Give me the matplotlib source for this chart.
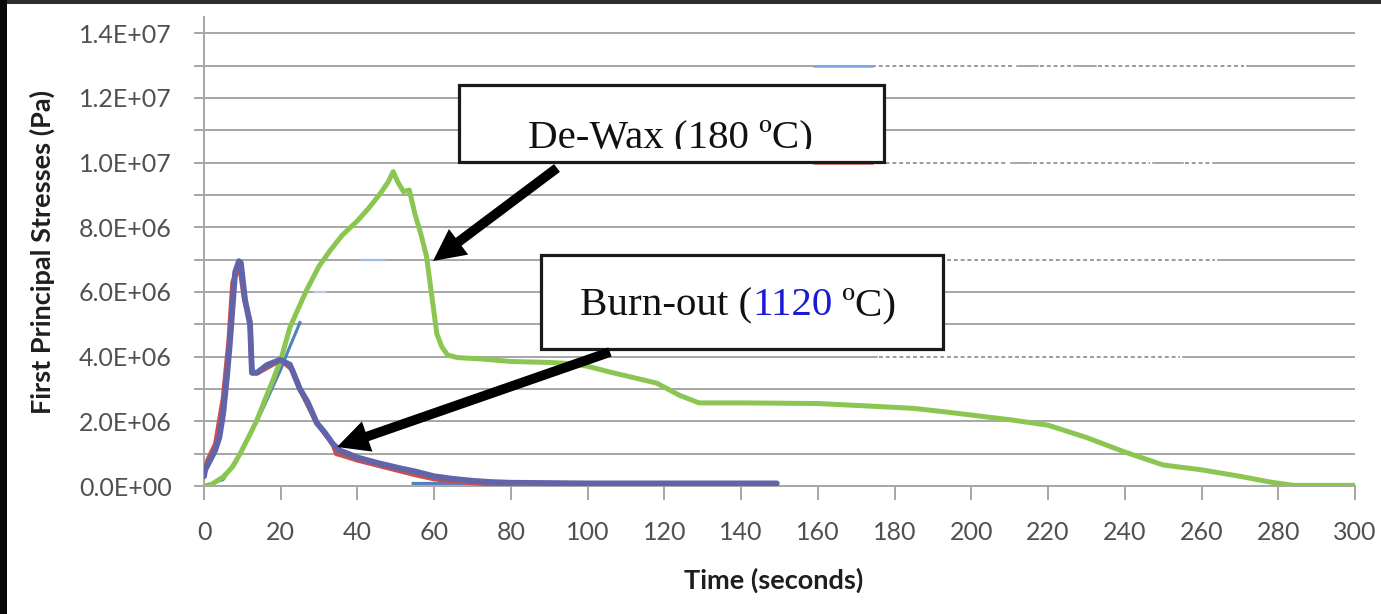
import matplotlib
matplotlib.use("Agg")
import matplotlib.pyplot as plt
from matplotlib.patches import Rectangle, FancyArrowPatch
from matplotlib.transforms import Bbox, TransformedBbox
import numpy as np

# ---------------- data ----------------
green_t = [0, 2, 5, 7.5, 9.4, 12, 13.8, 16, 18, 20, 22.4, 25, 26.8, 30, 33, 36, 40, 43, 46, 48,
           49.3, 50.5, 52, 53.5, 55, 56.5, 58, 59.4, 60.7, 62, 63.5, 66, 72, 80, 90, 96, 100,
           106.6, 112, 118, 124, 129, 140, 150, 160, 165, 177, 185, 194, 203, 210, 220, 230,
           240, 245, 250, 260, 270, 278, 284, 300]
green_v = [0, 0.05, 0.28, 0.6, 1.0, 1.6, 2.04, 2.7, 3.28, 3.9, 4.9, 5.6, 6.07, 6.8, 7.3, 7.75,
           8.2, 8.6, 9.05, 9.4, 9.72, 9.4, 9.1, 9.15, 8.4, 7.8, 7.1, 5.85, 4.7, 4.3, 4.05, 3.97,
           3.93, 3.85, 3.82, 3.78, 3.7, 3.5, 3.35, 3.18, 2.8, 2.57, 2.57, 2.56, 2.55, 2.52, 2.45,
           2.4, 2.28, 2.15, 2.05, 1.88, 1.5, 1.05, 0.85, 0.65, 0.5, 0.3, 0.12, 0.02, 0.02]

purple_t = [0, 0.3, 1.6, 2.9, 4, 5, 6, 6.8, 8.1, 9.1, 9.6, 10.7, 12, 12.5, 13.8, 16.4, 19.8,
            22.4, 25, 27, 29.4, 31.5, 33.6, 35.4, 40, 45, 51, 55, 60, 65, 70, 75, 80, 90, 100, 149.3]
purple_v = [0.3, 0.5, 0.8, 1.1, 1.5, 2.25, 3.4, 4.5, 6.6, 6.95, 6.9, 5.75, 5.0, 3.5, 3.5, 3.74,
            3.9, 3.75, 3.0, 2.6, 1.95, 1.65, 1.3, 1.1, 0.88, 0.72, 0.55, 0.45, 0.3, 0.22, 0.16,
            0.12, 0.1, 0.09, 0.08, 0.08]

red_t = [0, 1, 3, 5, 6.5, 7.5, 8.5, 9.3, 10.5, 12, 12.5, 14, 17, 20, 23, 25, 29.4, 33.6, 34.5,
         36, 40, 45, 50, 55, 60, 65, 70, 75, 80]
red_v = [0.4, 0.8, 1.3, 2.7, 4.5, 6.3, 6.6, 6.8, 5.8, 5.1, 3.5, 3.5, 3.7, 3.9, 3.6, 3.0, 1.95,
         1.3, 1.0, 0.95, 0.8, 0.65, 0.5, 0.35, 0.22, 0.15, 0.1, 0.07, 0.05]

blue_t = [0, 5, 10, 15, 20, 22, 25, np.nan, 54.5, 80]
blue_v = [0, 0.2, 1.1, 2.3, 3.6, 4.2, 5.05, np.nan, 0.08, 0.08]

x_ticks = list(range(0, 301, 20))
y_ticks = [0, 2e6, 4e6, 6e6, 8e6, 1e7, 1.2e7, 1.4e7]
y_tick_labels = ["0.0E+00", "2.0E+06", "4.0E+06", "6.0E+06", "8.0E+06", "1.0E+07", "1.2E+07", "1.4E+07"]

label_dewax = "De-Wax (180 ºC)"
label_burn = ["Burn-out (", "1120", " ºC)"]

SCALE = 1e6

# ---------------- figure ----------------
W, H = 1381, 614
fig = plt.figure(figsize=(W / 100, H / 100), dpi=100)
fig.patch.set_facecolor("white")

def fx(px):
    return px / W

def fy(py):
    return 1 - py / H

ax = fig.add_axes([fx(204), fy(486), fx(1355) - fx(204), fy(17) - fy(486)])
ax.set_xlim(0, 300)
ax.set_ylim(0, 1.45e7)

grid_c = "#a6a6a6"
for v in np.arange(1e6, 1.41e7, 1e6):
    ax.axhline(v, color=grid_c, lw=1.4, zorder=1)

ax.set_xticks(x_ticks)
ax.set_xticklabels([str(t) for t in x_ticks])
ax.set_yticks(y_ticks)
ax.set_yticklabels(y_tick_labels)
ax.set_yticks(np.arange(1e6, 1.41e7, 2e6), minor=True)

for s in ["top", "right"]:
    ax.spines[s].set_visible(False)
for s in ["left", "bottom"]:
    ax.spines[s].set_color(grid_c)
    ax.spines[s].set_linewidth(1.4)

ax.tick_params(axis="y", which="both", direction="out", length=7, width=1.4, color=grid_c, pad=16)
ax.tick_params(axis="x", direction="out", length=10, width=1.4, color=grid_c, pad=15)
for lab in ax.get_xticklabels() + ax.get_yticklabels():
    lab.set_fontfamily("Lato")
    lab.set_fontsize(18)
    lab.set_color("#505050")

# legend remnants (dotted fragments)
rem_c = "#9a9a9a"
for (x0, x1, v) in [(174, 211, 13), (218, 226, 13), (233, 271, 13),
                    (174, 209.5, 10), (216, 246.5, 10), (255.7, 262.2, 10),
                    (176, 263.5, 7), (176, 254.4, 4)]:
    ax.plot([x0, x1], [v * SCALE, v * SCALE], color="white", lw=2.5, zorder=1.5)
    ax.plot([x0, x1], [v * SCALE, v * SCALE], color=rem_c, lw=1.4, ls=(0, (2, 1.5)), zorder=1.6)
ax.plot([159, 174], [1.3e7, 1.3e7], color="#7ea6e0", lw=1.8, zorder=1.7)
ax.plot([159, 174], [1.0e7, 1.0e7], color="#d9605a", lw=1.8, zorder=1.7)
ax.plot([41, 47], [7e6, 7e6], color="#9fbbe6", lw=1.6, zorder=1.7)
ax.plot([29, 31.5], [6e6, 6e6], color="#b3c8ec", lw=1.6, zorder=1.7)

# series
ax.plot(blue_t, np.array(blue_v) * SCALE, color="#4f81bd", lw=2.2, zorder=2)
ax.plot(green_t, np.array(green_v) * SCALE, color="#8cc652", lw=3.6, zorder=3,
        solid_joinstyle="round", solid_capstyle="round")
ax.plot(red_t, np.array(red_v) * SCALE, color="#c8504d", lw=3.6, zorder=4,
        solid_joinstyle="round")
ax.plot(purple_t, np.array(purple_v) * SCALE, color="#6264aa", lw=4.2, zorder=5,
        solid_joinstyle="round", solid_capstyle="round")

# annotation boxes
def px2data(px, py):
    t = (px - 204) / (1355 - 204) * 300
    v = (486 - py) / (486 - 17) * 1.45e7
    return t, v

bx0, by1 = px2data(459, 85)
bx1, by0 = px2data(884, 162)
ax.add_patch(Rectangle((bx0, by0), bx1 - bx0, by1 - by0, facecolor="white",
                       edgecolor="#1a1a1a", lw=2.3, zorder=6, clip_on=False))
tx, ty = px2data(670, 147)
txt = ax.text(tx, ty, label_dewax, family="Liberation Serif", size=29.5, color="#111111",
              ha="center", va="baseline", zorder=7)
c0 = px2data(460, 149)
c1 = px2data(883, 86)
txt.set_clip_box(TransformedBbox(Bbox([list(c0), list(c1)]), ax.transData))
txt.set_clip_on(True)

cx0, cy1 = px2data(541, 255)
cx1, cy0 = px2data(943, 349)
ax.add_patch(Rectangle((cx0, cy0), cx1 - cx0, cy1 - cy0, facecolor="white",
                       edgecolor="#1a1a1a", lw=2.3, zorder=6, clip_on=False))
tx, ty = px2data(580, 315)
t1 = ax.text(tx, ty, label_burn[0], family="Liberation Serif", size=29.5, color="#111111",
             ha="left", va="baseline", zorder=7)
t2 = ax.annotate(label_burn[1], xy=(1, 0), xycoords=t1, family="Liberation Serif", size=29.5,
                 color="#1a1ad6", ha="left", va="bottom", zorder=7)
t3 = ax.annotate(label_burn[2], xy=(1, 0), xycoords=t2, family="Liberation Serif", size=29.5,
                 color="#111111", ha="left", va="bottom", zorder=7)

# arrows
def arrow(tail_px, tip_px):
    a = FancyArrowPatch(px2data(*tail_px), px2data(*tip_px),
                        arrowstyle="simple,head_length=2.3,head_width=2.3,tail_width=0.7",
                        mutation_scale=10, color="black", lw=0, zorder=8,
                        shrinkA=0, shrinkB=0)
    ax.add_patch(a)

arrow((557, 168), (433, 261))
arrow((610, 352), (337, 447))

# axis titles
fig.text(fx(42), fy(252), "First Principal Stresses (Pa)", rotation=90, ha="center", va="center",
         family="Lato", weight="bold", size=19.5, color="#1e1e1e")
fig.text(fx(774), fy(580), "Time (seconds)", ha="center", va="center",
         family="Lato", weight="bold", size=19.5, color="#1e1e1e")

# screenshot frame
fig.patches.append(Rectangle((0, fy(4)), 1, 4 / H, transform=fig.transFigure,
                             facecolor="#2e2e2e", edgecolor="none", zorder=10))
fig.patches.append(Rectangle((0, 0), 7 / W, 1, transform=fig.transFigure,
                             facecolor="#080808", edgecolor="none", zorder=10))

fig.savefig("out.png", dpi=100, facecolor="white")
